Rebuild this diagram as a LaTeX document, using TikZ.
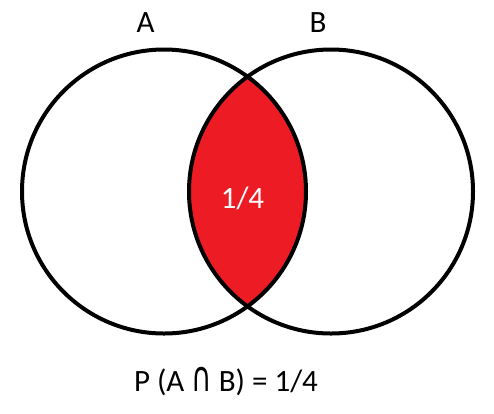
\documentclass[tikz,border=0pt]{standalone}
\usepackage{fontspec}
\setmainfont{Carlito}
\newfontfamily\symbolfont{DejaVu Sans}
\definecolor{vennred}{HTML}{ED1C24}
\tikzset{
    venncircle/.style={
        draw=black,
        line width=4pt
    },
    vennlabel/.style={
        anchor=base,
        inner sep=0pt,
        font=\fontsize{31}{33}\selectfont
    }
}
\begin{document}
\begin{tikzpicture}[x=1pt,y=-1pt]
        \useasboundingbox (0,0) rectangle (494,413);

        \coordinate (centerA) at (164,191.5);
        \coordinate (centerB) at (331,191.5);

        % shaded intersection
        \begin{scope}
            \clip (centerA) circle (142pt);
            \fill[vennred] (centerB) circle (142pt);
        \end{scope}

        \draw[venncircle] (centerA) circle (142pt);
        \draw[venncircle] (centerB) circle (142pt);

        \node[vennlabel] (labelA) at (145.5,32) {A};
        \node[vennlabel] (labelB) at (318,32) {B};
        \node[vennlabel,text=white] (labelAB) at (242.5,208) {1/4};
        \node[vennlabel] (probability) at (226,391)
            {P (A \scalebox{0.9}[1.35]{\symbolfont ∩} B) = 1/4};
    \end{tikzpicture}
\end{document}
